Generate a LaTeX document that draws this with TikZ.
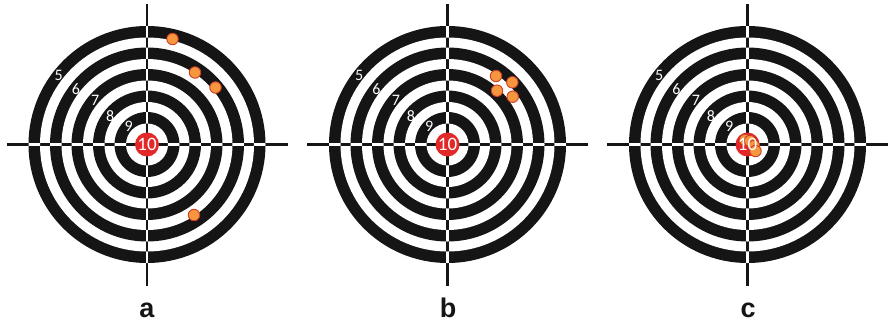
\documentclass[tikz,border=0pt]{standalone}
\usepackage{fontspec}
\newfontfamily\numfont{Carlito}
\newfontfamily\lblfont{Liberation Sans}
\definecolor{ringblack}{RGB}{21,21,21}
\definecolor{bullred}{RGB}{226,40,40}
\definecolor{shotorange}{RGB}{246,150,62}
\definecolor{shotedge}{RGB}{205,62,40}
\tikzset{
  ringnum/.style={text=white, inner sep=0pt, font=\fontsize{16}{16}\selectfont\numfont},
  tennum/.style={text=white, inner sep=0pt, font=\fontsize{19}{19}\selectfont\numfont},
  shot/.style={circle, fill=shotorange, draw=shotedge, line width=0.9pt, inner sep=0pt, minimum size=11.5pt},
  caption/.style={anchor=base, inner sep=0pt, font=\fontsize{27}{27}\selectfont\lblfont\bfseries, text=ringblack},
  crossline/.style={line width=2.8pt},
  target/.pic={
    \fill[ringblack] (0,0) circle (118.5);
    \fill[white] (0,0) circle (107);
    \fill[ringblack] (0,0) circle (97);
    \fill[white] (0,0) circle (85.5);
    \fill[ringblack] (0,0) circle (75.5);
    \fill[white] (0,0) circle (64);
    \fill[ringblack] (0,0) circle (54);
    \fill[white] (0,0) circle (42.5);
    \fill[ringblack] (0,0) circle (32.5);
    \fill[white] (0,0) circle (21);
    \draw[crossline, ringblack] (-140.5,0) -- (140.5,0) (0,-141) -- (0,141);
    \begin{scope}[even odd rule]
      \clip (0,0) circle (118.5) (0,0) circle (107) (0,0) circle (97) (0,0) circle (85.5)
        (0,0) circle (75.5) (0,0) circle (64) (0,0) circle (54) (0,0) circle (42.5)
        (0,0) circle (32.5) (0,0) circle (21);
      \draw[crossline, white] (-140.5,0) -- (140.5,0) (0,-141) -- (0,141);
    \end{scope}
    \fill[bullred] (0,0) circle (12);
    \node[ringnum] (-n5) at (-88.3,-68.9) {5};
    \node[ringnum] (-n6) at (-71,-55) {6};
    \node[ringnum] (-n7) at (-51.7,-44.3) {7};
    \node[ringnum] (-n8) at (-36.7,-28.3) {8};
    \node[ringnum] (-n9) at (-18.4,-18.3) {9};
  }
}
\begin{document}
\begin{tikzpicture}[x=1pt,y=-1pt]
\useasboundingbox (0,0) rectangle (888,322);
\pic (ta) at (147,144.5) {target};
\pic (tb) at (447.5,144.5) {target};
\pic (tc) at (747.5,144.5) {target};
% shots a
\node[shot] (a1) at (172.5,39) {};
\node[shot] (a2) at (195,72.5) {};
\node[shot] (a3) at (215.5,87.5) {};
\node[shot] (a4) at (194,215) {};
% shots b
\node[shot] (b1) at (496,76) {};
\node[shot] (b2) at (512.3,82.3) {};
\node[shot] (b3) at (497,90.7) {};
\node[shot] (b4) at (512.7,96.7) {};
% shots c
\node[shot] (c1) at (745,140) {};
\node[shot] (c2) at (750,141) {};
\node[shot] (c3) at (754,146) {};
\node[shot] (c4) at (755.5,151) {};
% bull numbers
\node[tennum] (ta10) at (147,144.5) {10};
\node[tennum] (tb10) at (447.5,144.5) {10};
\node[tennum] (tc10) at (747.5,144.5) {10};
% captions
\node[caption] (la) at (147,317) {a};
\node[caption] (lb) at (448,317) {b};
\node[caption] (lc) at (748,317) {c};
\end{tikzpicture}
\end{document}
